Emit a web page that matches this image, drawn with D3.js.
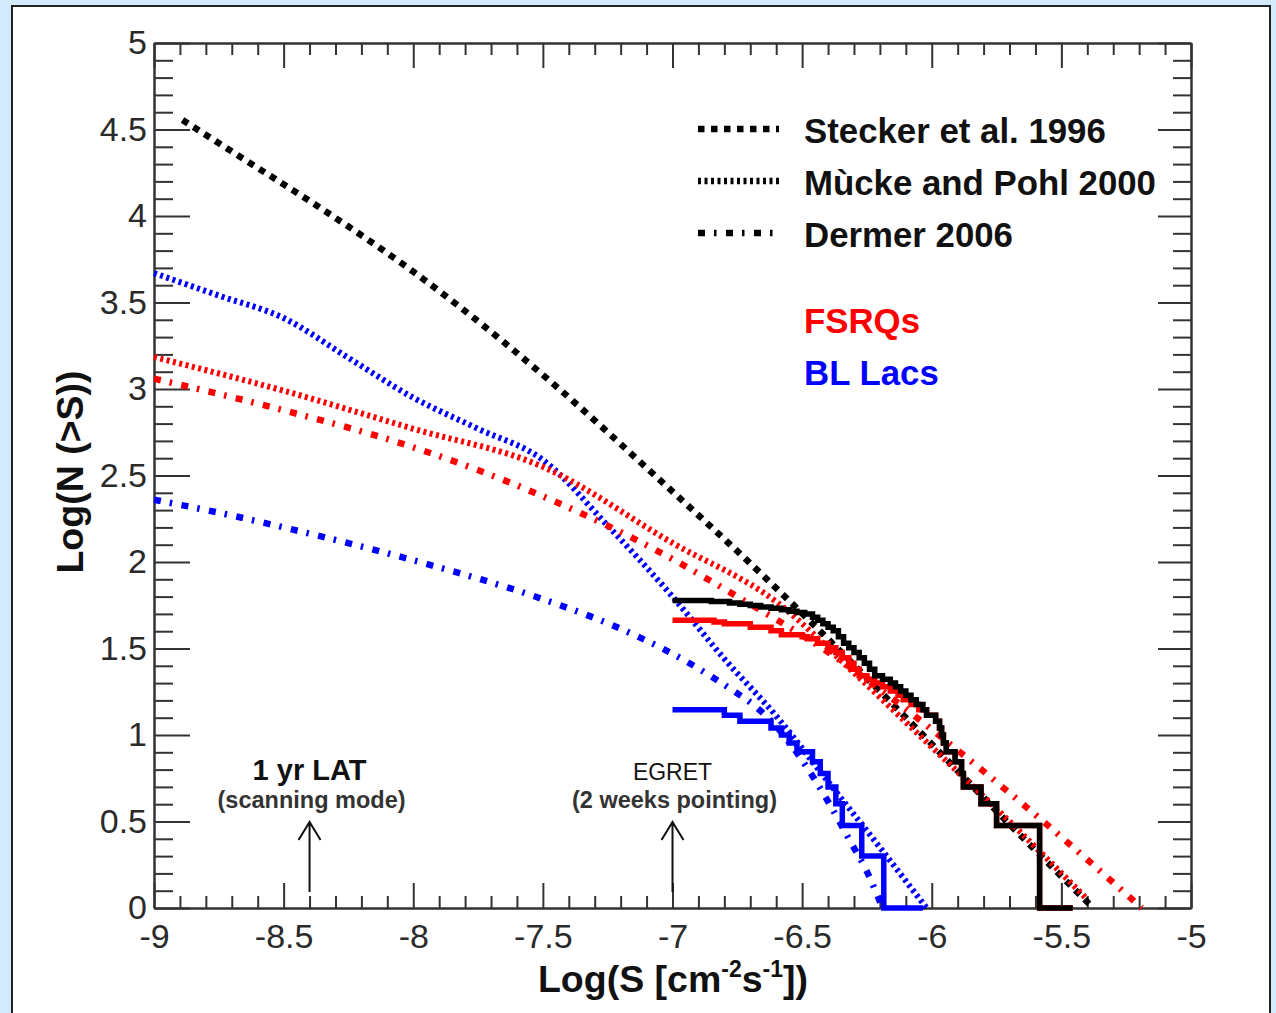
<!DOCTYPE html>
<html>
<head>
<meta charset="utf-8">
<script src="https://cdn.jsdelivr.net/npm/d3@7"></script>
<style>
  body { margin: 0; background: #d2eafc; }
  svg { display: block; }
</style>
</head>
<body>
<svg id="svg"></svg>
<script>

const width = 1276;
const height = 1013;

// tick values and labels
const xTickValues = [-9, -8.5, -8, -7.5, -7, -6.5, -6, -5.5, -5];
const xTickLabels = ["-9", "-8.5", "-8", "-7.5", "-7", "-6.5", "-6", "-5.5", "-5"];
const yTickValues = [0, 0.5, 1, 1.5, 2, 2.5, 3, 3.5, 4, 4.5, 5];
const yTickLabels = ["0", "0.5", "1", "1.5", "2", "2.5", "3", "3.5", "4", "4.5", "5"];

// model curves, log S vs log N(>S)
const steckerLogS = [-8.89, -8.6, -8.37, -8.0, -7.65, -7.44, -7.07, -6.66, -6.5, -6.11, -5.64, -5.39];
const steckerLogN = [4.555, 4.278, 4.058, 3.678, 3.27, 3.004, 2.503, 1.935, 1.703, 1.116, 0.393, 0.02];

const muckeFsrqLogS = [-9, -8.5, -8.0, -7.5, -7.0, -6.6, -6.3, -6.0, -5.7, -5.4];
const muckeFsrqLogN = [3.185, 2.99, 2.77, 2.55, 2.11, 1.77, 1.36, 0.93, 0.50, 0.05];

const muckeBlLogS = [-9, -8.75, -8.5, -8.25, -8.0, -7.75, -7.5, -7.25, -7.0, -6.8, -6.6, -6.4, -6.2, -6.02];
const muckeBlLogN = [3.67, 3.54, 3.41, 3.18, 2.95, 2.77, 2.59, 2.21, 1.80, 1.44, 1.11, 0.73, 0.35, 0.0];

const dermerFsrqLogS = [-9, -8.5, -8.0, -7.5, -7.0, -6.79, -6.4, -5.87, -5.5, -5.19];
const dermerFsrqLogN = [3.06, 2.877, 2.663, 2.38, 2.017, 1.835, 1.48, 0.875, 0.41, 0.0];

const dermerBlLogS = [-9, -8.75, -8.5, -8.0, -7.5, -7.2, -6.97, -6.78, -6.68, -6.6, -6.45, -6.31, -6.25, -6.19];
const dermerBlLogN = [2.36, 2.285, 2.20, 2.01, 1.785, 1.614, 1.445, 1.27, 1.165, 1.05, 0.74, 0.374, 0.21, 0.0];

// EGRET cumulative counts (step histograms)
const totalStepS = [-7.0, -6.85, -6.78, -6.74, -6.70, -6.66, -6.62, -6.58, -6.55, -6.52, -6.49, -6.46, -6.44, -6.42, -6.40, -6.38, -6.36, -6.34, -6.32, -6.30, -6.28, -6.26, -6.24, -6.22, -6.19, -6.16, -6.14, -6.12, -6.10, -6.08, -6.06, -6.034, -6.02, -5.985, -5.97, -5.962, -5.955, -5.944, -5.91, -5.885, -5.878, -5.81, -5.75, -5.584, -5.456];
const totalStepN = [1.778, 1.771, 1.763, 1.756, 1.748, 1.740, 1.732, 1.724, 1.716, 1.708, 1.699, 1.681, 1.663, 1.643, 1.623, 1.602, 1.568, 1.531, 1.505, 1.477, 1.447, 1.415, 1.380, 1.342, 1.322, 1.301, 1.279, 1.255, 1.230, 1.204, 1.176, 1.146, 1.114, 1.079, 1.041, 1.0, 0.954, 0.903, 0.845, 0.778, 0.699, 0.602, 0.477, 0, 0];

const fsrqStepS = [-7.0, -6.84, -6.80, -6.70, -6.62, -6.58, -6.50, -6.48, -6.44, -6.40, -6.37, -6.345, -6.32, -6.30, -6.28, -6.25, -6.22, -6.19, -6.16, -6.13, -6.11, -6.08, -6.05, -6.02, -5.985, -5.97, -5.962, -5.955, -5.944, -5.91, -5.885, -5.878, -5.81, -5.75, -5.584, -5.456];
const fsrqStepN = [1.663, 1.653, 1.643, 1.623, 1.602, 1.580, 1.568, 1.556, 1.531, 1.505, 1.477, 1.447, 1.415, 1.380, 1.342, 1.322, 1.301, 1.279, 1.255, 1.230, 1.204, 1.176, 1.146, 1.114, 1.079, 1.041, 1.0, 0.954, 0.903, 0.845, 0.778, 0.699, 0.602, 0.477, 0, 0];

const blStepS = [-7.0, -6.80, -6.74, -6.62, -6.58, -6.55, -6.52, -6.46, -6.43, -6.40, -6.37, -6.345, -6.27, -6.185, -6.034];
const blStepN = [1.146, 1.114, 1.079, 1.041, 1.0, 0.954, 0.903, 0.845, 0.778, 0.699, 0.602, 0.477, 0.301, 0, 0];

const legendModels = ["Stecker et al. 1996", "Mùcke and Pohl 2000", "Dermer 2006"];
const legendClasses = ["FSRQs", "BL Lacs"];


const dashStecker = "6.5,6.5";
const dashMucke = "3,3.5";
const dashDermer = "7,9,2.5,9.5";
const red = "#ff0000";
const blue = "#0000ff";
const font = "'Liberation Sans', Arial, sans-serif";

const svg = d3.select("#svg")
	.attr("width", width)
	.attr("height", height)
	.attr("viewBox", `0 0 ${width} ${height}`);

svg.append("rect")
	.attr("x", 0).attr("y", 0)
	.attr("width", width).attr("height", height)
	.attr("fill", "#d2eafc");

svg.append("rect")
	.attr("x", 12).attr("y", 6)
	.attr("width", 1258).attr("height", 1040)
	.attr("fill", "white")
	.attr("stroke", "#222")
	.attr("stroke-width", 2);

const x = d3.scaleLinear().domain([-9, -5]).range([154, 1191]);
const y = d3.scaleLinear().domain([0, 5]).range([908, 43]);

const zip = (a, b) => a.map((v, i) => [v, b[i]]);

const smooth = d3.line()
	.x(d => x(d[0]))
	.y(d => y(d[1]))
	.curve(d3.curveMonotoneX);

const step = d3.line()
	.x(d => x(d[0]))
	.y(d => y(d[1]))
	.curve(d3.curveStepAfter);

// axes
const xMinor = d3.range(41).filter(i => i % 5 !== 0).map(i => -9 + i * 0.1);
const yMinor = d3.range(51).filter(i => i % 5 !== 0).map(i => i * 0.1);

function styleAxis(g) {
	g.select(".domain").attr("stroke", "#333").attr("stroke-width", 2);
	g.selectAll(".tick line").attr("stroke", "#333").attr("stroke-width", 2);
	g.selectAll("text")
		.attr("font-family", font)
		.attr("font-size", 34)
		.attr("fill", "#2a2a2a");
}

const axisLayer = svg.append("g");

axisLayer.append("g")
	.attr("transform", `translate(0,${y(0)})`)
	.call(d3.axisBottom(x).tickValues(xMinor).tickSizeInner(-12).tickSizeOuter(0).tickFormat(""))
	.call(styleAxis);
axisLayer.append("g")
	.attr("transform", `translate(0,${y(0)})`)
	.call(d3.axisBottom(x).tickValues(xTickValues).tickSizeInner(-25).tickSizeOuter(0)
		.tickPadding(16).tickFormat((d, i) => xTickLabels[i]))
	.call(styleAxis);

axisLayer.append("g")
	.attr("transform", `translate(0,${y(5)})`)
	.call(d3.axisTop(x).tickValues(xMinor).tickSizeInner(-12).tickSizeOuter(0).tickFormat(""))
	.call(styleAxis);
axisLayer.append("g")
	.attr("transform", `translate(0,${y(5)})`)
	.call(d3.axisTop(x).tickValues(xTickValues).tickSizeInner(-25).tickSizeOuter(0).tickFormat(""))
	.call(styleAxis);

axisLayer.append("g")
	.attr("transform", `translate(${x(-9)},0)`)
	.call(d3.axisLeft(y).tickValues(yMinor).tickSizeInner(-19).tickSizeOuter(0).tickFormat(""))
	.call(styleAxis);
axisLayer.append("g")
	.attr("transform", `translate(${x(-9)},0)`)
	.call(d3.axisLeft(y).tickValues(yTickValues).tickSizeInner(-36).tickSizeOuter(0)
		.tickPadding(7).tickFormat((d, i) => yTickLabels[i]))
	.call(styleAxis);

axisLayer.append("g")
	.attr("transform", `translate(${x(-5)},0)`)
	.call(d3.axisRight(y).tickValues(yMinor).tickSizeInner(-18).tickSizeOuter(0).tickFormat(""))
	.call(styleAxis);
axisLayer.append("g")
	.attr("transform", `translate(${x(-5)},0)`)
	.call(d3.axisRight(y).tickValues(yTickValues).tickSizeInner(-33).tickSizeOuter(0).tickFormat(""))
	.call(styleAxis);

// model curves
const curves = [
	{ s: steckerLogS, n: steckerLogN, color: "#000", dash: dashStecker, w: 6.5 },
	{ s: muckeBlLogS, n: muckeBlLogN, color: blue, dash: dashMucke, w: 6 },
	{ s: muckeFsrqLogS, n: muckeFsrqLogN, color: red, dash: dashMucke, w: 6 },
	{ s: dermerFsrqLogS, n: dermerFsrqLogN, color: red, dash: dashDermer, w: 6.5 },
	{ s: dermerBlLogS, n: dermerBlLogN, color: blue, dash: dashDermer, w: 6.5 }
];

const plot = svg.append("g");

plot.selectAll("path.model")
	.data(curves)
	.enter().append("path")
	.attr("class", "model")
	.attr("d", d => smooth(zip(d.s, d.n)))
	.attr("fill", "none")
	.attr("stroke", d => d.color)
	.attr("stroke-width", d => d.w)
	.attr("stroke-dasharray", d => d.dash);

// EGRET histograms
const steps = [
	{ s: blStepS, n: blStepN, color: blue },
	{ s: fsrqStepS, n: fsrqStepN, color: red },
	{ s: totalStepS, n: totalStepN, color: "#000" }
];

plot.selectAll("path.step")
	.data(steps)
	.enter().append("path")
	.attr("class", "step")
	.attr("d", d => step(zip(d.s, d.n)))
	.attr("fill", "none")
	.attr("stroke", d => d.color)
	.attr("stroke-width", 5.5)
	.attr("stroke-linejoin", "miter");

// legend
const legend = svg.append("g")
	.attr("font-family", font)
	.attr("font-weight", "bold")
	.attr("font-size", 34.8);

const legendDash = [dashStecker, dashMucke, dashDermer];
legendModels.forEach((name, i) => {
	const base = 143 + i * 52;
	legend.append("line")
		.attr("x1", 698).attr("x2", 779)
		.attr("y1", base - 14).attr("y2", base - 14)
		.attr("stroke", "#000")
		.attr("stroke-width", 6.5)
		.attr("stroke-dasharray", legendDash[i]);
	legend.append("text")
		.attr("x", 804).attr("y", base)
		.attr("fill", "#111")
		.text(name);
});

legendClasses.forEach((name, i) => {
	legend.append("text")
		.attr("x", 804).attr("y", 333 + i * 52)
		.attr("fill", i === 0 ? red : blue)
		.text(name);
});

// arrows and their notes
const notes = [
	{ s: -8.4, title: "1 yr LAT", sub: "(scanning mode)", bold: true },
	{ s: -7.0, title: "EGRET", sub: "(2 weeks pointing)", bold: false }
];

const noteG = svg.append("g")
	.attr("font-family", font)
	.attr("text-anchor", "middle");

notes.forEach(nt => {
	const cx = x(nt.s);
	noteG.append("text")
		.attr("x", cx).attr("y", 780)
		.attr("font-size", nt.bold ? 29 : 23)
		.attr("font-weight", nt.bold ? "bold" : "normal")
		.attr("fill", "#111")
		.text(nt.title);
	noteG.append("text")
		.attr("x", cx + 2).attr("y", 808)
		.attr("font-size", 23.5)
		.attr("font-weight", "bold")
		.attr("fill", "#333")
		.text(nt.sub);
	noteG.append("path")
		.attr("d", `M${cx},892 V822 M${cx - 11},840 L${cx},822 L${cx + 11},840`)
		.attr("fill", "none")
		.attr("stroke", "#111")
		.attr("stroke-width", 2);
});

// axis titles
const xTitle = svg.append("text")
	.attr("x", 673).attr("y", 992)
	.attr("text-anchor", "middle")
	.attr("font-family", font)
	.attr("font-weight", "bold")
	.attr("font-size", 37.5)
	.attr("fill", "#111");
xTitle.append("tspan").text("Log(S [cm");
xTitle.append("tspan").attr("dy", -15).attr("font-size", 23).text("-2");
xTitle.append("tspan").attr("dy", 15).text("s");
xTitle.append("tspan").attr("dy", -15).attr("font-size", 23).text("-1");
xTitle.append("tspan").attr("dy", 15).text("])");

svg.append("text")
	.attr("transform", "translate(83,472) rotate(-90)")
	.attr("text-anchor", "middle")
	.attr("font-family", font)
	.attr("font-weight", "bold")
	.attr("font-size", 37.5)
	.attr("fill", "#111")
	.text("Log(N (>S))");

</script>
</body>
</html>
